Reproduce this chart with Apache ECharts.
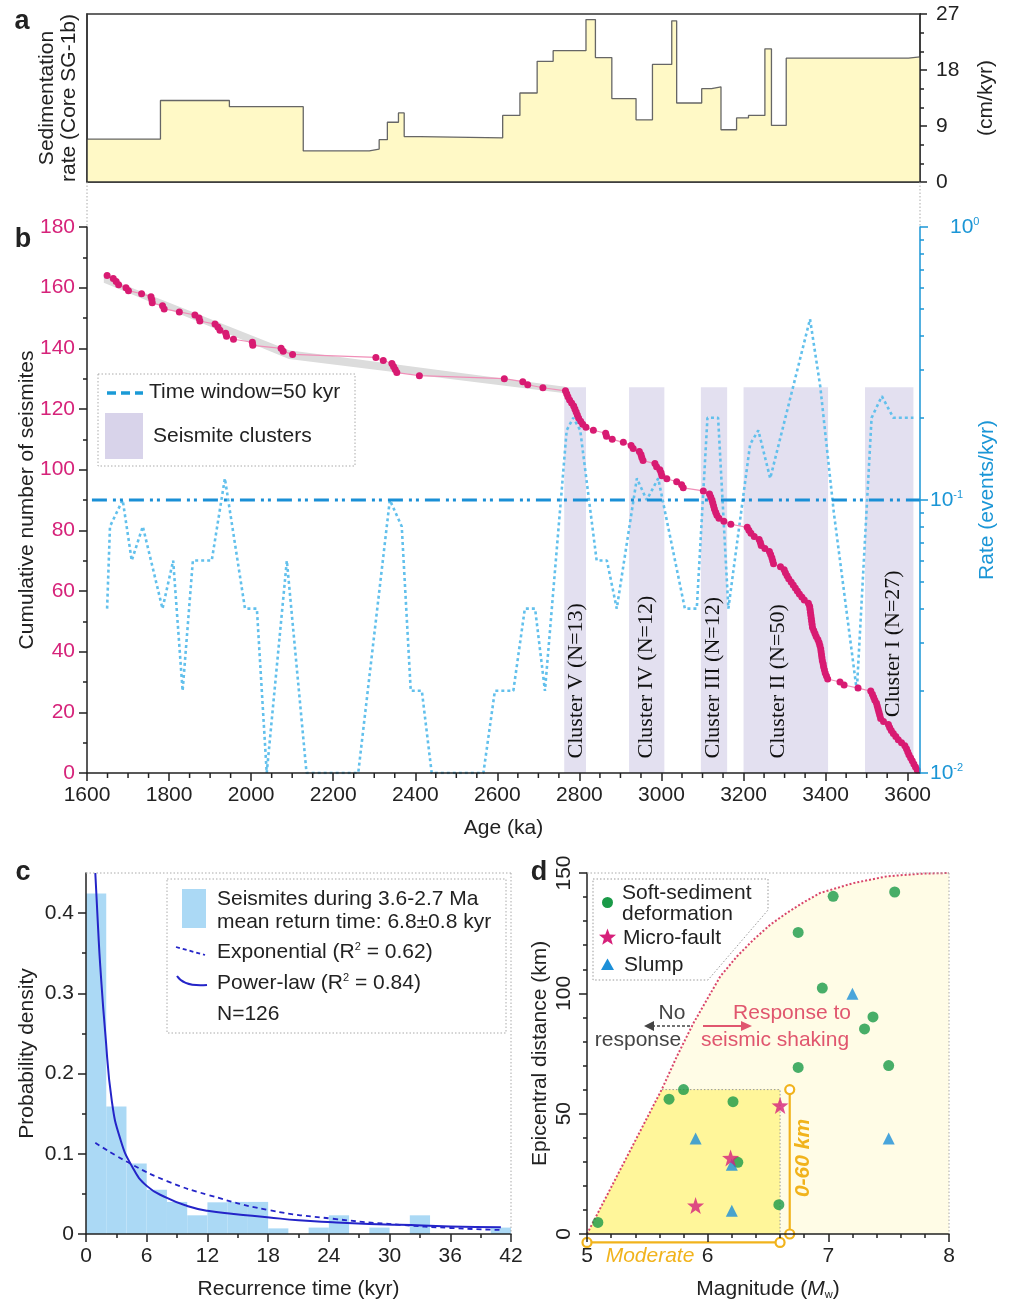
<!DOCTYPE html>
<html>
<head>
<meta charset="utf-8">
<script src="https://cdn.jsdelivr.net/npm/echarts@6/dist/echarts.min.js"></script>
<style>
html,body{margin:0;padding:0;background:#fff;}
#chart{width:1010px;height:1301px;}
</style>
</head>
<body>
<div id="chart"></div>
<script>
// ================= DATA =================
// Panel a: sedimentation rate steps (age of step start, ka ; rate cm/kyr)
const sedAgeStart = [1600,1779,1947,2127,2288,2312,2332,2359,2373,2412,2613,2655,2697,2736,2816,2839,2879,2938,2978,3025,3037,3098,3122,3145,3183,3212,3252,3268,3304,3602];
const sedRate     = [6.9,13.1,12.1,5.0,5.3,6.8,9.6,11.1,7.3,7.1,10.7,14.3,19.4,21.1,26.1,20.0,13.4,10.0,18.9,25.9,12.7,15.0,15.3,8.4,10.3,10.7,21.4,9.1,19.9,20.1];
const sedAgeEnd = 3630;
const sedTicks = [0,9,18,27];

// Panel b: cumulative number of seismites [age ka, count]
const cumulative = [
 [3623,1],[3619,2],[3615,3],[3611,4],[3607,5],[3603,6],[3600,7],[3597,8],[3593,9],[3585,10],
 [3577,11],[3571,12],[3565,13],[3560,14],[3556,15],[3553,16],[3541,17],[3534,18],[3532,19],[3530,20],
 [3528,21],[3526,22],[3524,23],[3520,24],[3517,25],[3514,26],[3510,27],[3479,28],[3445,29],[3435,30],
 [3405,31],[3402,32],[3399,33],[3397,34],[3395,35],[3394,36],[3392,37],[3391,38],[3390,39],[3389,40],
 [3388,41],[3386,42],[3384,43],[3381,44],[3377,45],[3374,46],[3371,47],[3368,48],[3367,49],[3366,50],
 [3365,51],[3364,52],[3363,53],[3362,54],[3361,55],[3358,56],[3348,57],[3342,58],[3336,59],[3331,60],
 [3326,61],[3321,62],[3316,63],[3310,64],[3306,65],[3302,66],[3299,67],[3290,68],[3273,69],[3271,70],
 [3269,71],[3266,72],[3263,73],[3252,74],[3243,75],[3241,76],[3238,77],[3226,78],[3218,79],[3213,80],
 [3209,81],[3169,82],[3152,83],[3140,84],[3135,85],[3132,86],[3129,87],[3127,88],[3125,89],[3123,90],
 [3120,91],[3117,92],[3102,93],[3053,94],[3049,95],[3037,96],[3013,97],[3001,98],[2999,99],[2996,100],
 [2988,101],[2984,102],[2955,103],[2952,104],[2950,105],[2946,106],[2931,107],[2926,108],[2907,109],[2880,110],
 [2866,111],[2864,112],[2834,113],[2816,114],[2808,115],[2803,116],[2798,117],[2795,118],[2792,119],[2789,120],
 [2786,121],[2781,122],[2776,123],[2772,124],[2769,125],[2766,126],[2711,127],[2674,128],[2662,129],[2617,130],
 [2410,131],[2355,132],[2351,133],[2347,134],[2343,135],[2322,136],[2304,137],[2101,138],[2078,139],[2073,140],
 [2004,141],[2003,142],[1957,143],[1940,144],[1938,145],[1924,146],[1919,147],[1912,148],[1875,149],[1873,150],
 [1863,151],[1825,152],[1788,153],[1784,154],[1759,155],[1758,156],[1756,157],[1733,158],[1701,159],[1695,160],
 [1677,161],[1671,162],[1664,163],[1649,164]
];
// grey linear-fit envelope (age, lower, upper)
const bandAge   = [1641, 2092, 2765];
const bandLower = [161.6, 136.5, 125.2];
const bandUpper = [163.6, 139.4, 127.3];

// Seismicity rate, 50-kyr window [age, events/kyr]
const rate = [
 [1649,0.04],[1656,0.08],[1687,0.1],[1709,0.06],[1736,0.08],[1784,0.04],[1810,0.06],[1833,0.02],[1858,0.06],[1904,0.06],
 [1936,0.12],[1985,0.04],[2014,0.04],[2038,0.01],[2087,0.06],[2135,0.01],[2261,0.01],[2338,0.1],[2367,0.08],[2389,0.02],
 [2416,0.02],[2440,0.01],[2566,0.01],[2594,0.02],[2639,0.02],[2667,0.04],[2692,0.04],[2716,0.02],[2769,0.18],[2785,0.2],
 [2802,0.18],[2842,0.06],[2867,0.06],[2891,0.04],[2940,0.12],[2964,0.1],[2992,0.12],[3057,0.04],[3086,0.04],[3112,0.2],
 [3138,0.2],[3163,0.04],[3216,0.16],[3236,0.18],[3265,0.12],[3362,0.46],[3387,0.26],[3420,0.09],[3476,0.02],[3512,0.2],
 [3537,0.24],[3565,0.2],[3614,0.2]
];
const thresholdRate = 0.1;
const thresholdAge = [1612, 3630];

// Seismite clusters
const clusterStart = [2763, 2921, 3096, 3200, 3496];
const clusterEnd   = [2816, 3007, 3160, 3406, 3614];
const clusterNames = ['Cluster V (N=13)','Cluster IV (N=12)','Cluster III (N=12)','Cluster II (N=50)','Cluster I (N=27)'];
const clusterLabelAge   = [2793, 2964, 3127, 3285, 3565];
const clusterLabelCount = [4.8, 4.8, 4.8, 4.8, 18.4];
const clusterTop = 127.2;

const ageTicks = [1600,1800,2000,2200,2400,2600,2800,3000,3200,3400,3600];
const ageMinorTicks = [1650,1700,1750,1850,1900,1950,2050,2100,2150,2250,2300,2350,2450,2500,2550,2650,2700,2750,2850,2900,2950,3050,3100,3150,3250,3300,3350,3450,3500,3550];
const countTicks = [0,20,40,60,80,100,120,140,160,180];
const rateMinorTicks = [0.02,0.03,0.04,0.05,0.06,0.07,0.08,0.09,0.2,0.3,0.4,0.5,0.6,0.7,0.8,0.9];

// Panel c: recurrence-time histogram (bin start kyr, width 2 kyr)
const histStart   = [0,2,4,6,8,10,12,14,16,18,20,22,24,26,28,30,32,34,36,38,40];
const histDensity = [0.4246,0.159,0.0878,0.0553,0.040,0.0233,0.0395,0.040,0.040,0.007,0,0.008,0.0233,0,0.008,0,0.0233,0,0,0,0.008];
const histBinWidth = 2;
const expFit   = [[0.92,0.1136],[4.54,0.0866],[8,0.066],[12,0.049],[18,0.030],[24.4,0.019],[31,0.0115],[36,0.0075],[41,0.005]];
const powerFit = [[0.92,0.45],[1.2,0.38],[1.41,0.334],[1.9,0.251],[2.56,0.165],[3.4,0.118],[4.54,0.0845],[6,0.06],[8,0.045],[10,0.035],[12,0.029],[14.6,0.025],[17.9,0.021],[21,0.017],[24.4,0.0145],[28,0.0125],[31,0.0115],[36,0.0095],[41,0.0083]];
const recTicks = [0,6,12,18,24,30,36,42];
const probTicks = [0,0.1,0.2,0.3,0.4];
const probMinorTicks = [0.05,0.15,0.25,0.35];

// Panel d: magnitude vs epicentral distance
const softSediment = [[5.09,4.8],[5.68,56],[5.80,60],[6.21,55],[6.25,29.8],[6.59,12.2],[6.75,69.2],[6.75,125.3],[7.04,140.3],[6.95,102.2],[7.30,85.2],[7.37,90.2],[7.50,70],[7.55,142.1]];
const microFault   = [[5.90,11.8],[6.19,31.6],[6.60,53.4]];
const slump        = [[5.90,39.7],[6.20,28.8],[6.20,9.7],[7.20,99.8],[7.50,39.7]];
const responseCurve = [[5,0],[5.621,60.2],[5.745,73.8],[5.883,87.7],[5.993,97.3],[6.104,107],[6.242,115.3],[6.38,122.3],[6.518,128.5],[6.656,133.4],[6.794,137.8],[6.932,141.7],[7.208,145.8],[7.484,148.6],[7.76,149.7],[8,150]];
const moderateZone = [[5,0],[5.621,60],[6.6,60],[6.6,0]];
const moderateMag = [5, 6.6];
const shallowDist = [0, 60];

// ================= STYLE =================
const FONT = '"Liberation Sans", Arial, Helvetica, sans-serif';
const SERIF = '"Liberation Serif", "Times New Roman", serif';
const INK = '#222';
const MAG = '#d6237a';
const BLUE = '#1b96d6';
const GOLD = '#f1b31c';
const DARKBLUE = '#2424c8';

const chart = echarts.init(document.getElementById('chart'), null, {renderer:'canvas', width:1010, height:1301});

const lineS = (c, w) => ({color: c || INK, width: w || 1.5});
const tickS = (c) => ({color: c || INK, width: 1.5});
const lbl = (extra) => Object.assign({fontSize:21, color:INK, fontFamily:FONT}, extra || {});
const nameS = (extra) => Object.assign({fontSize:21, color:INK, fontFamily:FONT}, extra || {});

const xAxis = [
  // 0 panel a
  {gridIndex:0, type:'value', position:'bottom', min:1600, max:sedAgeEnd, z:10,
   axisLine:{show:true, onZero:false, lineStyle:lineS('#333')}, axisTick:{show:false}, axisLabel:{show:false}, splitLine:{show:false}},
  // 1 panel b main
  {gridIndex:1, type:'value', position:'bottom', min:1600, max:3630, interval:200, z:10,
   axisLine:{show:true, onZero:false, lineStyle:lineS()},
   axisTick:{show:true, length:8, customValues:ageTicks, lineStyle:tickS()},
   axisLabel:lbl({customValues:ageTicks, margin:12, formatter:(v)=> ageTicks.includes(v) ? String(v) : ''}),
   splitLine:{show:false},
   name:'Age (ka)', nameLocation:'middle', nameGap:45, nameTextStyle:nameS()},
  // 2 panel b helper (unused for drawing)
  {gridIndex:1, type:'value', position:'bottom', min:1600, max:3630, show:false},
  // 3 panel c
  {gridIndex:2, type:'value', position:'bottom', min:0, max:42, interval:6, z:10,
   axisLine:{show:true, onZero:false, lineStyle:lineS()},
   axisTick:{show:true, length:8, lineStyle:tickS()},
   minorTick:{show:true, splitNumber:2, length:4, lineStyle:tickS()},
   axisLabel:lbl({margin:12}), splitLine:{show:false},
   name:'Recurrence time (kyr)', nameLocation:'middle', nameGap:45, nameTextStyle:nameS()},
  // 4 panel d
  {gridIndex:3, type:'value', position:'bottom', min:5, max:8, interval:1, z:10,
   axisLine:{show:true, onZero:false, lineStyle:lineS()},
   axisTick:{show:true, length:8, lineStyle:tickS()},
   minorTick:{show:true, splitNumber:5, length:4, lineStyle:tickS()},
   axisLabel:lbl({margin:12}), splitLine:{show:false},
   name:'Magnitude ({i|M}{w|w})', nameLocation:'middle', nameGap:45,
   nameTextStyle:nameS({rich:{i:{fontSize:21, fontStyle:'italic', color:INK, fontFamily:FONT}, w:{fontSize:11, color:INK, fontFamily:FONT, verticalAlign:'bottom'}}})}
];

const yAxis = [
  // 0 panel a left
  {gridIndex:0, type:'value', min:0, max:27, position:'left', z:10,
   axisLine:{show:true, lineStyle:lineS('#333')}, axisTick:{show:false}, axisLabel:{show:false}, splitLine:{show:false},
   name:'Sedimentation\nrate (Core SG-1b)', nameLocation:'middle', nameRotate:90, nameGap:7,
   nameTextStyle:nameS({lineHeight:22})},
  // 1 panel a right
  {gridIndex:0, type:'value', min:0, max:27, interval:9, position:'right', z:10,
   axisLine:{show:true, lineStyle:lineS('#333')},
   axisTick:{show:true, length:7, lineStyle:tickS()},
   minorTick:{show:true, splitNumber:3, length:4, lineStyle:tickS()},
   axisLabel:lbl({margin:16}), splitLine:{show:false},
   name:'(cm/kyr)', nameLocation:'middle', nameRotate:90, nameGap:56, nameTextStyle:nameS()},
  // 2 panel b count
  {gridIndex:1, type:'value', min:0, max:180, interval:20, position:'left', z:10,
   axisLine:{show:true, onZero:false, lineStyle:lineS()},
   axisTick:{show:true, length:8, lineStyle:tickS()},
   minorTick:{show:true, splitNumber:2, length:4, lineStyle:tickS()},
   axisLabel:lbl({color:MAG, margin:12}), splitLine:{show:false},
   name:'Cumulative number of seismites', nameLocation:'middle', nameRotate:90, nameGap:49, nameMoveOverlap:false, nameTextStyle:nameS()},
  // 3 panel b rate (log)
  {gridIndex:1, type:'log', logBase:10, min:0.01, max:1, position:'right', z:10,
   axisLine:{show:true, onZero:false, lineStyle:lineS(BLUE)},
   axisTick:{show:true, length:8, lineStyle:tickS(BLUE)},
   axisLabel:{margin:10, formatter:(v)=>{const e=Math.round(Math.log10(v)); return (e===0?'{p|}':'')+'{b|10}{s|'+e+'}';},
     rich:{b:{fontSize:21, color:BLUE, fontFamily:FONT}, s:{fontSize:11, color:BLUE, fontFamily:FONT, verticalAlign:'top'}, p:{width:20}}},
   splitLine:{show:false},
   name:'Rate (events/kyr)', nameLocation:'middle', nameRotate:90, nameGap:57, nameMoveOverlap:false, nameTextStyle:nameS({color:BLUE})},
  // 4 panel b rate minor ticks
  {gridIndex:1, type:'log', logBase:10, min:0.01, max:1, position:'right', z:10,
   axisLine:{show:false, onZero:false}, axisTick:{show:true, length:4, customValues:rateMinorTicks, lineStyle:tickS(BLUE)},
   axisLabel:{show:false}, splitLine:{show:false}},
  // 5 panel c main
  {gridIndex:2, type:'value', min:0, max:0.45, interval:0.1, position:'left', z:10,
   axisLine:{show:true, onZero:false, lineStyle:lineS()},
   axisTick:{show:true, length:8, customValues:probTicks, lineStyle:tickS()},
   axisLabel:lbl({customValues:probTicks, margin:12, formatter:(v)=> probTicks.some(t=>Math.abs(t-v)<1e-9) ? (v===0?'0':String(Math.round(v*10)/10)) : ''}),
   splitLine:{show:false},
   name:'Probability density', nameLocation:'middle', nameRotate:90, nameGap:48, nameMoveOverlap:false, nameTextStyle:nameS()},
  // 6 panel c minor
  {gridIndex:2, type:'value', min:0, max:0.45, position:'left', z:10,
   axisLine:{show:false, onZero:false}, axisTick:{show:true, length:4, customValues:probMinorTicks, lineStyle:tickS()},
   axisLabel:{show:false}, splitLine:{show:false}},
  // 7 panel d
  {gridIndex:3, type:'value', min:0, max:150, interval:50, position:'left', z:10,
   axisLine:{show:true, onZero:false, lineStyle:lineS()},
   axisTick:{show:true, length:8, lineStyle:tickS()},
   minorTick:{show:true, splitNumber:5, length:4, lineStyle:tickS()},
   axisLabel:lbl({rotate:90, margin:12}), splitLine:{show:false},
   name:'Epicentral distance (km)', nameLocation:'middle', nameRotate:90, nameGap:36, nameTextStyle:nameS()}
];

const starPath = 'path://M12,0.5 L14.9,8.9 L23.8,9.1 L16.7,14.5 L19.3,23 L12,17.9 L4.7,23 L7.3,14.5 L0.2,9.1 L9.1,8.9 Z';

const series = [
  // ----- panel a -----
  {type:'line', xAxisIndex:0, yAxisIndex:1, step:'end', symbol:'none', z:2,
   data: sedAgeStart.map((a,i)=>[a, sedRate[i]]).concat([[sedAgeEnd, sedRate[sedRate.length-1]]]),
   lineStyle:{color:'#666', width:1.3}, areaStyle:{color:'#fff9c6', opacity:1}},
  // ----- panel b -----
  {type:'custom', xAxisIndex:1, yAxisIndex:2, z:1, silent:true,
   data: clusterStart.map((s,i)=>[s, clusterEnd[i], i]),
   renderItem:(p, api)=>{
     const s=api.value(0), e=api.value(1), i=api.value(2);
     const p0=api.coord([s,0]), p1=api.coord([e,clusterTop]);
     const t=api.coord([clusterLabelAge[i], clusterLabelCount[i]]);
     return {type:'group', children:[
       {type:'rect', shape:{x:p0[0], y:p1[1], width:p1[0]-p0[0], height:p0[1]-p1[1]}, style:{fill:'#e3e0f0'}},
       {type:'text', x:t[0], y:t[1], rotation:Math.PI/2,
        style:{text:clusterNames[i], font:'22px '+SERIF, fill:'#111', align:'left', verticalAlign:'middle'}}
     ]};
   }},
  {type:'custom', xAxisIndex:1, yAxisIndex:2, z:2, silent:true, data:[[bandAge[0], bandLower[0]]],
   renderItem:(p, api)=>{
     const pts = bandAge.map((a,i)=>api.coord([a,bandUpper[i]]));
     const low = bandAge.map((a,i)=>api.coord([a,bandLower[i]])).reverse();
     return {type:'polygon', shape:{points: pts.concat(low)}, style:{fill:'#dcdcdc'}};
   }},
  {type:'line', xAxisIndex:1, yAxisIndex:3, symbol:'none', z:3, data: rate,
   lineStyle:{color:'#62c0ec', width:2.6, type:[3,3]}},
  {type:'line', xAxisIndex:1, yAxisIndex:3, symbol:'none', z:4,
   data: thresholdAge.map(a=>[a, thresholdRate]),
   lineStyle:{color:'#1a8fd6', width:3, type:[15,6,3,4,3,6]}},
  {type:'line', xAxisIndex:1, yAxisIndex:2, z:5, data: cumulative,
   symbol:'circle', symbolSize:7, itemStyle:{color:'#d81b72'}, lineStyle:{color:'#f08fb8', width:1.2}},
  // minor ticks of the age axis (drawn through the age scale)
  {type:'custom', xAxisIndex:1, yAxisIndex:2, z:12, silent:true, clip:false,
   data: ageMinorTicks.map(v=>[v, 0]),
   renderItem:(p, api)=>{
     const q = api.coord([api.value(0), 0]);
     return {type:'line', shape:{x1:q[0], y1:q[1], x2:q[0], y2:q[1]+5}, style:{stroke:INK, lineWidth:1.5}};
   }},
  // ----- panel c -----
  {type:'custom', xAxisIndex:3, yAxisIndex:5, z:2, silent:true,
   data: histStart.map((s,i)=>[s, s+histBinWidth, histDensity[i]]),
   renderItem:(p, api)=>{
     const p0=api.coord([api.value(0),0]), p1=api.coord([api.value(1),api.value(2)]);
     return {type:'rect', shape:{x:p0[0], y:p1[1], width:p1[0]-p0[0], height:p0[1]-p1[1]}, style:{fill:'#abd9f5'}};
   }},
  {type:'line', xAxisIndex:3, yAxisIndex:5, symbol:'none', z:4, smooth:true, data: expFit,
   lineStyle:{color:DARKBLUE, width:1.8, type:[5,4]}},
  {type:'line', xAxisIndex:3, yAxisIndex:5, symbol:'none', z:4, smooth:true, data: powerFit,
   lineStyle:{color:DARKBLUE, width:2}},
  // ----- panel d -----
  {type:'custom', xAxisIndex:4, yAxisIndex:7, z:1, silent:true, data:[[5,0]],
   renderItem:(p, api)=>{
     const pts = responseCurve.map(d=>api.coord(d)).concat([api.coord([8,0])]);
     return {type:'polygon', shape:{points:pts}, style:{fill:'#fffce6'}};
   }},
  {type:'custom', xAxisIndex:4, yAxisIndex:7, z:2, silent:true, data:[[5,0]],
   renderItem:(p, api)=>{
     const pts = moderateZone.map(d=>api.coord(d));
     return {type:'group', children:[
       {type:'polygon', shape:{points:pts}, style:{fill:'#fff69a'}},
       {type:'polyline', shape:{points:[pts[1],pts[2],pts[3]]}, style:{stroke:'#999', lineWidth:1, lineDash:[1.5,2], fill:null}}
     ]};
   }},
  {type:'line', xAxisIndex:4, yAxisIndex:7, symbol:'none', z:3, data: responseCurve,
   lineStyle:{color:'#d9456a', width:2, type:[2,2]}},
  {type:'scatter', xAxisIndex:4, yAxisIndex:7, z:5, data: softSediment, symbol:'circle', symbolSize:11, itemStyle:{color:'#1a9a48'}},
  {type:'scatter', xAxisIndex:4, yAxisIndex:7, z:5, data: slump, symbol:'triangle', symbolSize:12, itemStyle:{color:'#1c8fd8'}},
  {type:'scatter', xAxisIndex:4, yAxisIndex:7, z:6, data: microFault, symbol:starPath, symbolSize:17, itemStyle:{color:'#d6207a'}},
  {type:'custom', xAxisIndex:4, yAxisIndex:7, z:7, silent:true, clip:false, data:[[5,0]],
   renderItem:(p, api)=>{
     const a=api.coord([moderateMag[0], -3.5]), b=api.coord([moderateMag[1], -3.5]);
     const c=api.coord([6.68, shallowDist[0]]), d=api.coord([6.68, shallowDist[1]]);
     const ls={stroke:GOLD, lineWidth:2.2, fill:null};
     const cs={stroke:GOLD, lineWidth:2.2, fill:'#fff'};
     return {type:'group', children:[
       {type:'line', shape:{x1:a[0],y1:a[1],x2:b[0],y2:b[1]}, style:ls},
       {type:'line', shape:{x1:c[0],y1:c[1],x2:d[0],y2:d[1]}, style:ls},
       {type:'circle', shape:{cx:a[0],cy:a[1],r:4.5}, style:cs},
       {type:'circle', shape:{cx:b[0],cy:b[1],r:4.5}, style:cs},
       {type:'circle', shape:{cx:c[0],cy:c[1],r:4.5}, style:cs},
       {type:'circle', shape:{cx:d[0],cy:d[1],r:4.5}, style:cs}
     ]};
   }}
];

// ================= GRAPHIC (legends, frames, annotations) =================
const F = (size, extra) => (extra ? extra+' ' : '') + size + 'px ' + FONT;
const T = (text, x, y, o) => ({type:'text', z:100, silent:true,
  style:Object.assign({text:text, x:x, y:y, font:F(21), fill:INK, align:'left', verticalAlign:'middle'}, o||{})});
const L = (x1,y1,x2,y2,o) => ({type:'line', z:100, silent:true, shape:{x1,y1,x2,y2},
  style:Object.assign({stroke:'#aaa', lineWidth:1, lineDash:[1.5,2]}, o||{})});
const supRich = {s:{fontSize:11, fontFamily:FONT, fill:INK, verticalAlign:'top'}};

function starPts(cx, cy, r, r0){
  const pts=[]; for(let k=0;k<10;k++){const rr=k%2?r0:r; const ang=-Math.PI/2+k*Math.PI/5; pts.push([cx+rr*Math.cos(ang), cy+rr*Math.sin(ang)]);} return pts;
}

const graphic = [
  // panel letters
  T('a', 22, 22, {font:F(27,'bold'), align:'center'}),
  T('b', 23, 240, {font:F(27,'bold'), align:'center'}),
  T('c', 23, 873, {font:F(27,'bold'), align:'center'}),
  T('d', 539, 873, {font:F(27,'bold'), align:'center'}),
  // panel b dotted frame between a and b
  L(87,182,87,227), L(920,182,920,227),
  // panel c and d dotted frames
  L(86,873,511,873), L(511,873,511,1234),
  L(587,873,949,873), L(949,873,949,1234),
  // legend b
  {type:'rect', z:99, silent:true, shape:{x:98, y:374, width:257, height:92}, style:{fill:'rgba(255,255,255,0)', stroke:'#aaa', lineWidth:1, lineDash:[1.5,2]}},
  L(107,393,143,393,{stroke:'#1a9ad6', lineWidth:3.5, lineDash:[9,5]}),
  T('Time window=50 kyr', 149, 392),
  {type:'rect', z:100, silent:true, shape:{x:105, y:413, width:38, height:46}, style:{fill:'#d8d3ea'}},
  T('Seismite clusters', 153, 436),
  // legend c
  {type:'rect', z:99, silent:true, shape:{x:167, y:879, width:339, height:154}, style:{fill:'rgba(255,255,255,0)', stroke:'#aaa', lineWidth:1, lineDash:[1.5,2]}},
  {type:'rect', z:100, silent:true, shape:{x:182, y:889, width:24, height:39}, style:{fill:'#abd9f5'}},
  T('Seismites during 3.6-2.7 Ma', 217, 899),
  T('mean return time: 6.8\u00b10.8 kyr', 217, 922),
  L(176,947,205,955,{stroke:DARKBLUE, lineWidth:1.8, lineDash:[4,3]}),
  T('Exponential (R{s|2} = 0.62)', 217, 952, {rich:supRich}),
  {type:'bezierCurve', z:100, silent:true, shape:{x1:177, y1:976, cpx1:184, cpy1:987, x2:207, y2:985}, style:{stroke:DARKBLUE, lineWidth:2, fill:null}},
  T('Power-law (R{s|2} = 0.84)', 217, 983, {rich:supRich}),
  T('N=126', 217, 1014),
  // legend d
  {type:'polygon', z:99, silent:true, shape:{points:[[593,879],[768,879],[768,910],[708,980],[593,980]]}, style:{fill:'rgba(255,255,255,0)', stroke:'#999', lineWidth:1, lineDash:[1.5,2]}},
  {type:'circle', z:100, silent:true, shape:{cx:607.5, cy:902.5, r:5.5}, style:{fill:'#1a9a48'}},
  T('Soft-sediment', 622, 893.5),
  T('deformation', 622, 914),
  {type:'polygon', z:100, silent:true, shape:{points:starPts(607.5, 937.5, 9, 3.8)}, style:{fill:'#d6207a'}},
  T('Micro-fault', 623, 938),
  {type:'polygon', z:100, silent:true, shape:{points:[[607.5,958.5],[614,970],[601,970]]}, style:{fill:'#1c8fd8'}},
  T('Slump', 624, 965),
  // annotations d
  T('No', 672, 1013, {align:'center', fill:'#444'}),
  T('response', 638, 1040, {align:'center', fill:'#444'}),
  L(690,1026,652,1026,{stroke:'#444', lineWidth:1.6, lineDash:[3,2]}),
  {type:'polygon', z:100, silent:true, shape:{points:[[644,1026],[654,1021],[654,1031]]}, style:{fill:'#444'}},
  T('Response to', 792, 1013, {align:'center', fill:'#e0566e'}),
  T('seismic shaking', 775, 1040, {align:'center', fill:'#e0566e'}),
  L(703,1026,743,1026,{stroke:'#e0566e', lineWidth:2, lineDash:null}),
  {type:'polygon', z:100, silent:true, shape:{points:[[752,1026],[741,1021],[741,1031]]}, style:{fill:'#e0566e'}},
  T('Moderate', 650, 1256, {align:'center', fill:GOLD, font:F(21,'italic')}),
  {type:'text', z:100, silent:true, x:803, y:1158, rotation:Math.PI/2,
   style:{text:'0-60 km', font:F(21,'italic bold'), fill:GOLD, align:'center', verticalAlign:'middle'}}
];

const option = {
  animation:false,
  backgroundColor:'#fff',
  textStyle:{fontFamily:FONT},
  grid:[
    {left:87, top:14, width:833, height:168, show:true, borderColor:'#333', borderWidth:1.5, backgroundColor:'rgba(0,0,0,0)', containLabel:false, outerBoundsMode:'none'},
    {left:87, top:227, width:833, height:546, containLabel:false, outerBoundsMode:'none'},
    {left:86, top:873, width:425, height:361, containLabel:false, outerBoundsMode:'none'},
    {left:587, top:873, width:362, height:361, containLabel:false, outerBoundsMode:'none'}
  ],
  xAxis: xAxis,
  yAxis: yAxis,
  series: series,
  graphic: graphic
};
chart.setOption(option);
</script>
</body>
</html>
